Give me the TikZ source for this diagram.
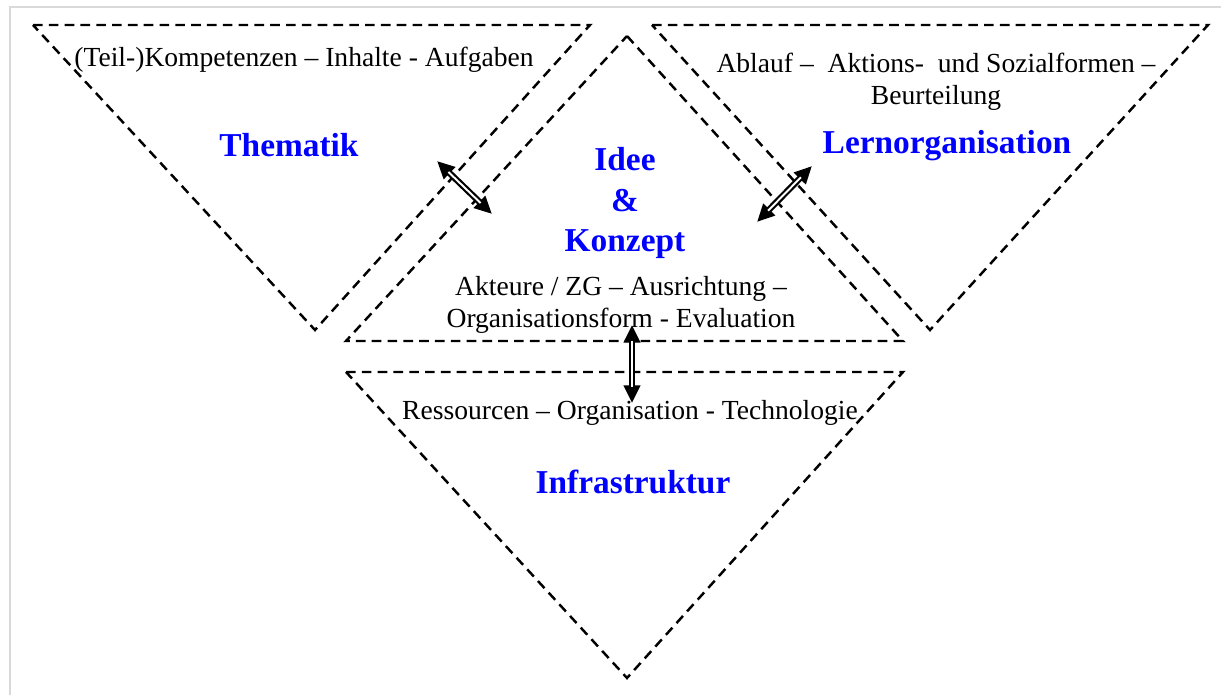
\documentclass[tikz,border=0pt]{standalone}
\usepackage{fontspec}
\setmainfont{Liberation Serif}
\usetikzlibrary{arrows.meta}
\tikzstyle{tri}=[draw=black,line width=1.4pt,dash pattern=on 5.5pt off 3.5pt]
\tikzstyle{sub}=[font=\fontsize{15.7}{18.2}\selectfont,align=center,inner sep=0]
\tikzstyle{ttl}=[font=\fontsize{19}{23.3}\selectfont\bfseries,text=blue,align=center,inner sep=0]
\tikzstyle{dbl}=[line width=3.6pt,{Triangle[length=10pt,width=9pt]}-{Triangle[length=10pt,width=9pt]}]
\tikzstyle{dblin}=[white,line width=1.1pt,shorten <=9pt,shorten >=9pt]

\begin{document}
\begin{tikzpicture}[x=0.02cm,y=-0.02cm]
\useasboundingbox (0,0) rectangle (1221,695);
\draw[gray!30,line width=0.6pt] (10,695) -- (10,7) -- (1221,7);

% triangles
\draw[tri] (33,25) -- (590,25) -- (315,330) -- cycle;
\draw[tri] (652,25) -- (1208,25) -- (930,330) -- cycle;
\draw[tri] (627,36) -- (903,341) -- (346,341) -- cycle;
\draw[tri] (346,372) -- (903,372) -- (627,678) -- cycle;

% texts
\node[sub] (them) at (304,60) {(Teil-)Kompetenzen -- Inhalte - Aufgaben};
\node[ttl] (themt) at (289,145) {Thematik};
\node[sub] (lern) at (936,82) {Ablauf --\ \ Aktions-\ \ und Sozialformen --\\Beurteilung};
\node[ttl] (lernt) at (947,146) {Lernorganisation};
\node[ttl] (idee) at (625,203) {Idee\\\&\\Konzept};
\node[sub] (akt) at (621,305) {Akteure / ZG -- Ausrichtung --\\Organisationsform - Evaluation};
\node[sub] (res) at (630,413) {Ressourcen -- Organisation - Technologie};
\node[ttl] (infra) at (633,482) {Infrastruktur};

% arrows
\coordinate (a1) at (437,161);
\coordinate (b1) at (492,214);
\coordinate (a2) at (812,166);
\coordinate (b2) at (757,222);
\coordinate (a3) at (632,325);
\coordinate (b3) at (632,403);
\draw[dbl] (a1) -- (b1);
\draw[dblin] (a1) -- (b1);
\draw[dbl] (a2) -- (b2);
\draw[dblin] (a2) -- (b2);
\draw[dbl] (a3) -- (b3);
\draw[dblin] (a3) -- (b3);
\end{tikzpicture}
\end{document}
